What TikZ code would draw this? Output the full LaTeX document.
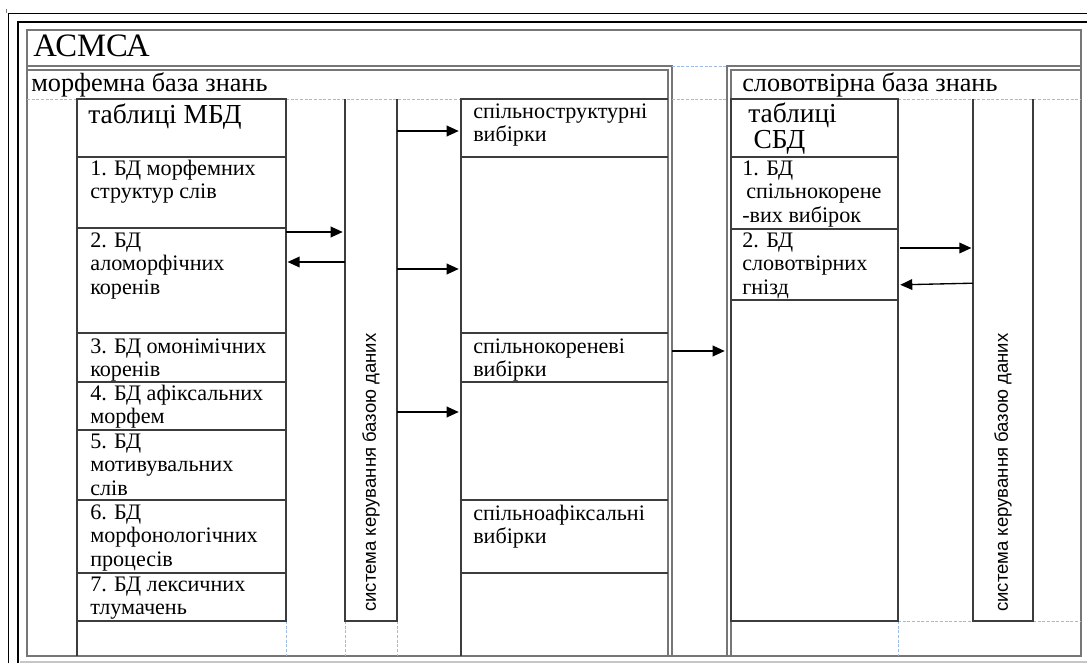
\documentclass[tikz,border=0pt]{standalone}
\usepackage{fontspec}
\setmainfont{Liberation Serif}
\newfontfamily\sansf{Liberation Sans}
\usetikzlibrary{arrows.meta,fit}
\definecolor{gline}{HTML}{767676}
\definecolor{bline}{HTML}{3C3C3C}
\definecolor{gridb}{HTML}{9DBBE6}
\newcommand\myst{\rule{0pt}{15pt}}
\begin{document}
\begin{tikzpicture}[x=0.75pt,y=-0.75pt,
  every node/.style={inner sep=0pt},
  frame/.style={draw=gline,line width=1.3pt},
  cell/.style={draw=bline,line width=1pt},
  gridl/.style={draw=gridb,line width=0.7pt,dash pattern=on 2.2pt off 1.3pt},
  arr/.style={draw=black,line width=1pt,-{Triangle[length=9pt,width=8pt]}},
  itm/.style={anchor=north west,align=left,font=\fontsize{16.6}{17.6}\selectfont},
  head/.style={anchor=base west,font=\fontsize{20.6}{19.5}\selectfont},
  syslab/.style={rotate=90,anchor=west,font=\sansf\fontsize{13.9}{15}\selectfont},
  hole/.style={inner sep=0pt}]
\useasboundingbox (0,0) rectangle (1087,663);
% page frame
\draw[black,line width=0.6pt] (8,663) -- (8,13) -- (1087,13);
\draw[black,line width=2.2pt] (18,663) -- (18,22) -- (1087,22);
\draw[gray!45,line width=1pt] (20,662) -- (1087,662);
\draw[gray,line width=0.6pt] (6,9) -- (6,13);
% main ASMSA box
\node[hole,fit={(27,30) (1081,656)}] (asmsa) {};
\draw[frame] (27,30) rectangle (1081,656);
\node[anchor=base west,font=\fontsize{24.5}{26}\selectfont] (title) at (33,57) {АСМСА};
% morphemic panel (double top and right sides)
\node[hole,fit={(27,66) (672,656)}] (mp) {};
\draw[frame] (27,66) -- (672,66) -- (672,656);
\draw[frame] (27,70) -- (668,70) -- (668,656);
\node[anchor=base west,font=\fontsize{19.7}{21}\selectfont] (mptitle) at (31,92) {морфемна база знань};
% word-formation panel
\node[hole,fit={(727,66) (1081,656)}] (sp) {};
\draw[frame] (727,656) -- (727,66) -- (1081,66);
\draw[frame] (731,656) -- (731,70) -- (1081,70);
\node[anchor=base west,font=\fontsize{19.7}{21}\selectfont] (sptitle) at (742,92) {словотвірна база знань};
% grid lines
\draw[gridl] (672,66) -- (727,66);
\draw[gridl] (27,99) -- (77,99);
\draw[gridl] (286,99) -- (461,99);
\draw[gridl] (672,99) -- (727,99);
\draw[gridl] (898,99) -- (1081,99);
\draw[gridl] (898,621) -- (973,621);
\draw[gridl] (1033,621) -- (1081,621);
\draw[gridl] (286,621) -- (286,656);
\draw[gridl] (345,621) -- (345,656);
\draw[gridl] (397,621) -- (397,656);
\draw[gridl] (898,621) -- (898,656);
% MBD tables column
\node[hole,fit={(77,99) (286,621)}] (mbd) {};
\draw[cell] (77,99) rectangle (286,621);
\draw[cell] (77,621) -- (77,656);
\foreach \yy in {157,228,333,382,430,500,573} \draw[cell] (77,\yy) -- (286,\yy);
\node[head] (mbdh) at (88,123) {таблиці МБД};
\node[itm] (m1) at (90,155) {\myst 1. БД морфемних\\структур слів};
\node[itm] (m2) at (90,227) {\myst 2. БД\\аломорфічних\\коренів};
\node[itm] (m3) at (90,333) {\myst 3. БД омонімічних\\коренів};
\node[itm] (m4) at (90,380) {\myst 4. БД афіксальних\\морфем};
\node[itm] (m5) at (90,428) {\myst 5. БД\\мотивувальних\\слів};
\node[itm] (m6) at (90,499) {\myst 6. БД\\морфонологічних\\процесів};
\node[itm] (m7) at (90,571) {\myst 7. БД лексичних\\тлумачень};
% DBMS 1
\node[hole,fit={(345,99) (397,621)}] (sys1) {};
\draw[cell] (345,99) -- (345,621) -- (397,621) -- (397,99);
\node[syslab] (sys1l) at (371,612) {система керування базою даних};
% samples column
\node[hole,fit={(461,99) (668,656)}] (samp) {};
\draw[cell] (461,656) -- (461,99) -- (668,99);
\foreach \yy in {157,333,382,500,573} \draw[cell] (461,\yy) -- (668,\yy);
\node[itm] (v1) at (473,98) {\myst спільноструктурні\\вибірки};
\node[itm] (v2) at (473,333) {\myst спільнокореневі\\вибірки};
\node[itm] (v3) at (473,500) {\myst спільноафіксальні\\вибірки};
% SBD tables column
\node[hole,fit={(731,99) (898,621)}] (sbd) {};
\draw[cell] (731,99) rectangle (898,621);
\foreach \yy in {157,229,300} \draw[cell] (731,\yy) -- (898,\yy);
\node[anchor=north west,align=left,font=\fontsize{20.6}{19.5}\selectfont] (sbdh) at (748,102) {\myst таблиці\\\hspace*{4pt}СБД};
\node[itm] (s1) at (742,155) {\myst 1. БД\\\hspace*{3pt}спільнокорене\\-вих вибірок};
\node[itm] (s2) at (742,227) {\myst 2. БД\\словотвірних\\гнізд};
% DBMS 2
\node[hole,fit={(973,99) (1033,621)}] (sys2) {};
\draw[cell] (973,99) -- (973,621) -- (1033,621) -- (1033,99);
\node[syslab] (sys2l) at (1003,612) {система керування базою даних};
% arrow levels
\coordinate (y1) at (0,131);
\coordinate (y2) at (0,232);
\coordinate (y3) at (0,262);
\coordinate (y4) at (0,269);
\coordinate (y5) at (0,412);
\coordinate (y6) at (0,351);
\coordinate (y7) at (0,248);
\coordinate (y8) at (0,284);
\draw[arr] (sys1.east |- y1) -- ([xshift=-1.5pt]samp.west |- y1);
\draw[arr] (mbd.east |- y2) -- ([xshift=-1.5pt]sys1.west |- y2);
\draw[arr] (sys1.west |- y3) -- ([xshift=1pt]mbd.east |- y3);
\draw[arr] (sys1.east |- y4) -- ([xshift=-1.5pt]samp.west |- y4);
\draw[arr] (sys1.east |- y5) -- ([xshift=-1.5pt]samp.west |- y5);
\draw[arr] (mp.east |- y6) -- ([xshift=-1.5pt]sp.west |- y6);
\draw[arr] ([xshift=1.5pt]sbd.east |- y7) -- ([xshift=-1pt]sys2.west |- y7);
\draw[arr] ([yshift=0.6pt]sys2.west |- y8) -- ([xshift=1.5pt,yshift=-0.6pt]sbd.east |- y8);
\end{tikzpicture}
\end{document}
